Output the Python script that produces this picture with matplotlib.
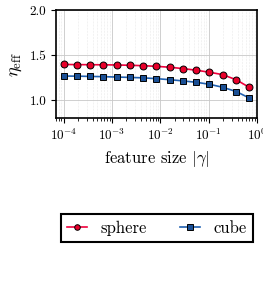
import numpy as np
import matplotlib
matplotlib.use('Agg')
import matplotlib.pyplot as plt

plt.rcParams['font.family'] = ['cmr10', 'DejaVu Serif']
plt.rcParams['mathtext.fontset'] = 'cm'
plt.rcParams['axes.formatter.use_mathtext'] = True
plt.rcParams['axes.unicode_minus'] = False

# feature sizes |gamma| (log spaced)
gamma = [1.0e-4, 1.88e-4, 3.53e-4, 6.64e-4, 1.25e-3, 2.35e-3, 4.41e-3, 8.29e-3,
         1.56e-2, 2.93e-2, 5.50e-2, 0.103, 0.194, 0.372, 0.70]
eta_sphere = [1.396, 1.394, 1.393, 1.392, 1.390, 1.387, 1.382, 1.375,
              1.365, 1.350, 1.332, 1.310, 1.283, 1.226, 1.140]
eta_cube = [1.267, 1.266, 1.263, 1.260, 1.256, 1.252, 1.247, 1.238,
            1.227, 1.213, 1.198, 1.176, 1.143, 1.095, 1.022]

fig = plt.figure(figsize=(2.63, 2.88), dpi=100)
ax = fig.add_axes([0.213, 0.59, 0.764, 0.375])

ax.plot(gamma, eta_sphere, color='#f0003c', linewidth=1.2, marker='o', markersize=5,
        markerfacecolor='#e8002a', markeredgecolor='black', markeredgewidth=0.7,
        label='sphere', zorder=3)
ax.plot(gamma, eta_cube, color='#2060b0', linewidth=1.2, marker='s', markersize=5,
        markerfacecolor='#1a4f95', markeredgecolor='black', markeredgewidth=0.7,
        label='cube', zorder=3)

ax.set_xscale('log')
ax.set_xlim(7e-5, 1.0)
ax.set_ylim(0.8, 2.0)
ax.set_yticks([1.0, 1.5, 2.0])
ax.set_yticklabels(['1.0', '1.5', '2.0'])
ax.set_xticks([1e-4, 1e-3, 1e-2, 1e-1, 1e0])
ax.grid(True, which='major', color='#c8c8c8', linewidth=0.6)
ax.grid(True, which='minor', color='#d8d8d8', linewidth=0.4, linestyle=':')
ax.set_axisbelow(True)
for s in ax.spines.values():
    s.set_linewidth(1.2)
ax.tick_params(labelsize=9.5, width=0.8)
ax.tick_params(which='minor', width=0.6)

ax.set_xlabel(r'feature size $|\gamma|$', fontsize=12)
ax.set_ylabel(r'$\eta_{\mathrm{eff}}$', fontsize=13)

leg = fig.legend(loc='center', bbox_to_anchor=(0.597, 0.208), ncol=2, fontsize=12,
                 fancybox=False, edgecolor='black', framealpha=1, markerscale=0.8,
                 handlelength=1.2, columnspacing=2.0)
leg.get_frame().set_linewidth(1.5)

fig.savefig('out.png', dpi=100)
